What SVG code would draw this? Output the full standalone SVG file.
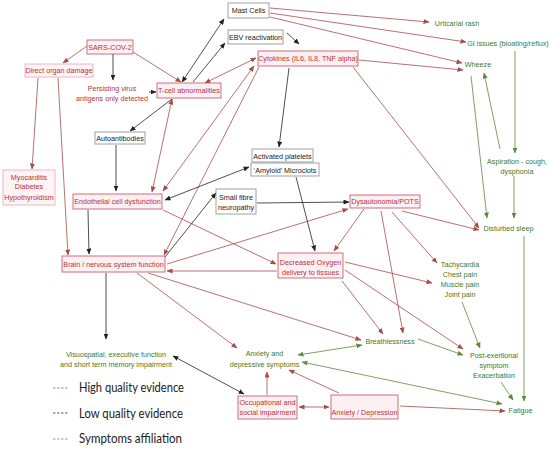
<svg xmlns="http://www.w3.org/2000/svg" width="550" height="450" viewBox="0 0 550 450">
<style>
text{font-family:"Liberation Sans",Arial,sans-serif;font-size:7.2px}
.rb{fill:#fdf0f2;stroke:#c0505a;stroke-width:0.8}
.lb{fill:#fdf4f6;stroke:#e8a8b4;stroke-width:0.8}
.gb{fill:#ffffff;stroke:#8a8a8a;stroke-width:0.8}
.rt{fill:#b8323c;text-anchor:middle}
.kt{fill:#1a1a1a;text-anchor:middle}
.gt{fill:#3d7a2a;text-anchor:middle}
.r{stroke:#a84c48;stroke-width:0.8;fill:none;marker-end:url(#ar)}
.k{stroke:#222;stroke-width:0.8;fill:none;marker-end:url(#ak)}
.g{stroke:#5b8a3b;stroke-width:0.8;fill:none;marker-end:url(#ag)}
.r2{marker-start:url(#ar)}
.k2{marker-start:url(#ak)}
.g2{marker-start:url(#ag)}
.leg{font-family:"Lato","Liberation Sans",sans-serif;font-size:12.5px;fill:#222}
</style>
<defs>
<marker id="ar" markerUnits="userSpaceOnUse" markerWidth="6" markerHeight="5" refX="5.5" refY="2.5" orient="auto-start-reverse"><path d="M0,0 L6,2.5 L0,5 z" fill="#a84c48"/></marker>
<marker id="ak" markerUnits="userSpaceOnUse" markerWidth="6" markerHeight="5" refX="5.5" refY="2.5" orient="auto-start-reverse"><path d="M0,0 L6,2.5 L0,5 z" fill="#222"/></marker>
<marker id="ag" markerUnits="userSpaceOnUse" markerWidth="6" markerHeight="5" refX="5.5" refY="2.5" orient="auto-start-reverse"><path d="M0,0 L6,2.5 L0,5 z" fill="#5b8a3b"/></marker>
</defs>
<rect width="550" height="450" fill="#ffffff"/>
<g id="connectors">
<path class="r" d="M87,46 L63,63"/>
<path class="r" d="M133,52 L181,82"/>
<path class="r" d="M38,78 L32,169"/>
<path class="r" d="M58,78 L68,255"/>
<path class="r r2" d="M205,83 L256,58"/>
<path class="r" d="M270,8 L429,22"/>
<path class="r" d="M270,13 L466,42"/>
<path class="r" d="M270,17 L462,63"/>
<path class="r" d="M359,60 L463,70"/>
<path class="r" d="M353,67 L479,228"/>
<path class="r r2" d="M152,192 L172,99"/>
<path class="r r2" d="M254,66 L163,191"/>
<path class="r" d="M259,67 L164,255"/>
<path class="r" d="M364,209 L334,251"/>
<path class="r" d="M167,264 L348,209"/>
<path class="r" d="M277,271 L167,271"/>
<path class="r" d="M163,210 L276,264"/>
<path class="r" d="M148,273 L361,340"/>
<path class="r" d="M137,273 L237,348"/>
<path class="r" d="M267,395 L267,372"/>
<path class="r r2" d="M299,407 L329,407"/>
<path class="r" d="M339,393 L289,370"/>
<path class="r" d="M400,406 L505,411"/>
<path class="r" d="M402,211 L479,230"/>
<path class="r" d="M392,212 L437,263"/>
<path class="r" d="M381,211 L403,333"/>
<path class="r" d="M345,262 L432,283"/>
<path class="r" d="M345,270 L463,349"/>
<path class="r" d="M342,281 L383,334"/>
<path class="k" d="M113,54 L113,80"/>
<path class="k" d="M149,92 L156,92"/>
<path class="k k2" d="M182,82 L224,19"/>
<path class="k" d="M193,82 L225,43"/>
<path class="k" d="M287,33 L299,44"/>
<path class="k" d="M289,68 L279,147"/>
<path class="k" d="M172,99 L130,131"/>
<path class="k" d="M116,145 L116,191"/>
<path class="k" d="M88,210 L89,254"/>
<path class="k k2" d="M165,200 L249,167"/>
<path class="k" d="M165,257 L216,193"/>
<path class="k" d="M257,203 L349,202"/>
<path class="k" d="M296,177 L315,251"/>
<path class="k" d="M106,273 L106,339"/>
<path class="k k2" d="M244,394 L173,356"/>
<path class="g" d="M515,51 L515,153"/>
<path class="g" d="M500,149 L484,73"/>
<path class="g" d="M471,76 L487,218"/>
<path class="g" d="M514,176 L514,218"/>
<path class="g" d="M524,236 L524,401"/>
<path class="g" d="M462,302 L480,348"/>
<path class="g" d="M418,339 L463,355"/>
<path class="g" d="M501,382 L513,400"/>
<path class="g g2" d="M298,355 L362,345"/>
<path class="g g2" d="M502,404 L302,362"/>
</g>
<g id="sars"><rect class="rb" x="87" y="40" width="46" height="14"/><text class="rt" x="110" y="50">SARS-COV-2</text></g>
<g id="direct"><rect class="lb" x="25" y="64" width="68" height="13"/><text class="rt" x="59" y="73">Direct organ damage</text></g>
<g id="persisting"><text class="rt" x="112" y="91">Persisting  virus</text><text class="rt" x="112" y="101">antigens only  detected</text></g>
<g id="tcell"><rect class="rb" x="157" y="83" width="64" height="15"/><text class="rt" x="189" y="93">T-cell abnormalities</text></g>
<g id="mast"><rect class="gb" x="228" y="3" width="41" height="15"/><text class="kt" x="248.5" y="13">Mast Cells</text></g>
<g id="ebv"><rect class="gb" x="228" y="30" width="55" height="14"/><text class="kt" x="255.5" y="39.5">EBV reactivation</text></g>
<g id="cytokines"><rect class="rb" x="258" y="51" width="100" height="15"/><text class="rt" x="308" y="61">Cytokines (IL6, IL8, TNF alpha)</text></g>
<g id="urticarial"><text class="gt" x="457" y="25.5">Urticarial rash</text></g>
<g id="gi"><text class="gt" x="508" y="45.5">GI issues (bloating/reflux)</text></g>
<g id="wheeze"><text class="gt" x="478" y="67">Wheeze</text></g>
<g id="autoantibodies"><rect class="gb" x="95" y="132" width="50" height="12"/><text class="kt" x="120" y="141">Autoantibodies</text></g>
<g id="myocarditis"><rect class="lb" x="3" y="170" width="52" height="35"/><text class="rt" x="29" y="179.5">Myocarditis</text><text class="rt" x="29" y="189">Diabetes</text><text class="rt" x="29" y="199.5">Hypothyroidism</text></g>
<g id="endothelial"><rect class="rb" x="73" y="194" width="89" height="15"/><text class="rt" x="117.5" y="204">Endothelial cell dysfunction</text></g>
<g id="platelets"><rect class="gb" x="252" y="149" width="61" height="13"/><text class="kt" x="282.5" y="158.5">Activated platelets</text><rect class="gb" x="251" y="163" width="68" height="13"/><text class="kt" x="285" y="172.5">‘Amyloid’ Microclots</text></g>
<g id="smallfibre"><rect class="gb" x="216" y="189" width="40" height="25"/><text class="kt" x="236" y="199.5">Small fibre</text><text class="kt" x="236" y="210">neuropathy</text></g>
<g id="dysautonomia"><rect class="rb" x="350" y="195" width="70" height="13"/><text class="rt" x="385" y="204">Dysautonomia/POTS</text></g>
<g id="aspiration"><text class="gt" x="517" y="163.5">Aspiration - cough,</text><text class="gt" x="517" y="173.5">dysphonia</text></g>
<g id="sleep"><text class="gt" x="508.5" y="230.5">Disturbed sleep</text></g>
<g id="brain"><rect class="rb" x="62" y="256" width="103" height="16"/><text class="rt" x="113.5" y="266.5">Brain / nervous system function</text></g>
<g id="oxygen"><rect class="rb" x="278" y="253" width="65" height="25"/><text class="rt" x="310.5" y="264.5">Decreased Oxygen</text><text class="rt" x="310.5" y="274.5">delivery to tissues</text></g>
<g id="tachycardia"><text class="gt" x="460" y="266.5">Tachycardia</text><text class="gt" x="460" y="276.5">Chest pain</text><text class="gt" x="460" y="286.5">Muscle pain</text><text class="gt" x="460" y="296.5">Joint pain</text></g>
<g id="breathlessness"><text class="gt" x="390" y="343.5">Breathlessness</text></g>
<g id="postexertional"><text class="gt" x="494" y="357.5">Post-exertional</text><text class="gt" x="494" y="367.5">symptom</text><text class="gt" x="494" y="377.5">Exacerbation</text></g>
<g id="fatigue"><text class="gt" x="520.5" y="412.5">Fatigue</text></g>
<g id="anxietysymptoms"><text class="gt" x="264.5" y="355.5">Anxiety and</text><text class="gt" x="264.5" y="366.5">depressive symptoms</text></g>
<g id="occupational"><rect class="rb" x="238" y="396" width="59" height="23"/><text class="rt" x="267.5" y="404.5">Occupational and</text><text class="rt" x="267.5" y="414.5">social impairment</text></g>
<g id="anxietydepression"><rect class="rb" x="331" y="395" width="67" height="24"/><text class="rt" x="364.5" y="414.5">Anxiety / Depression</text></g>
<g id="visuospatial"><text class="gt" x="116" y="356.5">Visuospatial, executive function</text><text class="gt" x="116" y="366.5">and short term memory impairment</text></g>
<g id="legend">
<line x1="53" y1="388" x2="68" y2="388" stroke="#c0605a" stroke-width="0.8" stroke-dasharray="2.5,1.5"/>
<line x1="53" y1="413" x2="68" y2="413" stroke="#333" stroke-width="0.8" stroke-dasharray="2.5,1.5"/>
<line x1="53" y1="439" x2="68" y2="439" stroke="#6a9a4a" stroke-width="0.8" stroke-dasharray="2.5,1.5"/>
<text class="leg" x="79" y="392" textLength="105" lengthAdjust="spacingAndGlyphs">High quality evidence</text>
<text class="leg" x="79" y="417.5" textLength="104" lengthAdjust="spacingAndGlyphs">Low quality evidence</text>
<text class="leg" x="79" y="443" textLength="103" lengthAdjust="spacingAndGlyphs">Symptoms affiliation</text>
</g>
</svg>
